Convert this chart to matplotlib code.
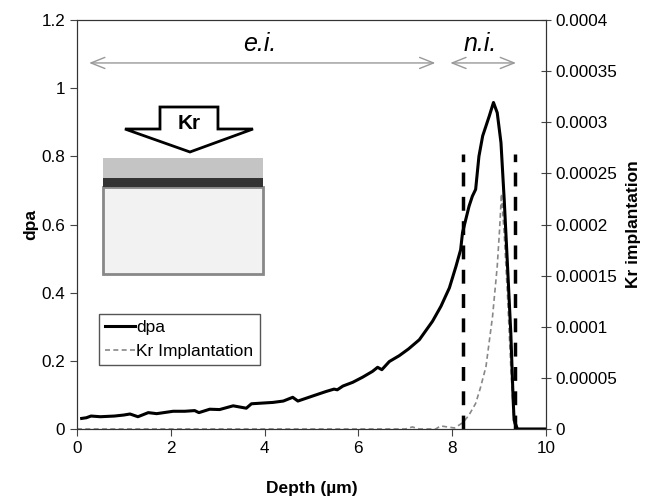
import matplotlib
matplotlib.use('Agg')
import matplotlib.pyplot as plt
from matplotlib.patches import Rectangle, Polygon

plt.rcParams['font.family'] = ['Liberation Sans', 'DejaVu Sans']

# dpa profile (left axis)
depth_dpa = [0.1, 0.2, 0.3, 0.5, 0.8, 1.0, 1.13, 1.3, 1.52, 1.7, 2.05, 2.3, 2.51, 2.6,
             2.83, 3.04, 3.33, 3.61, 3.72, 4.18, 4.4, 4.6, 4.71, 5.03, 5.31, 5.48, 5.55,
             5.67, 5.88, 6.09, 6.3, 6.41, 6.5, 6.66, 6.87, 7.07, 7.3, 7.58, 7.76, 7.94,
             8.08, 8.18, 8.22, 8.36, 8.43, 8.5, 8.57, 8.65, 8.79, 8.88, 8.96, 9.04, 9.11,
             9.18, 9.25, 9.3, 9.32, 9.39, 9.6, 10.0]
dpa = [0.031, 0.033, 0.038, 0.036, 0.038, 0.041, 0.044, 0.036, 0.048, 0.045, 0.052, 0.052,
       0.054, 0.048, 0.058, 0.057, 0.068, 0.061, 0.074, 0.078, 0.082, 0.093, 0.082, 0.097,
       0.11, 0.117, 0.115, 0.126, 0.137, 0.152, 0.169, 0.181, 0.174, 0.198, 0.215, 0.235,
       0.262, 0.316, 0.36, 0.414, 0.477, 0.526, 0.576, 0.654, 0.683, 0.703, 0.80, 0.86,
       0.918, 0.958, 0.928, 0.84, 0.67, 0.477, 0.28, 0.085, 0.026, 0.0, 0.0, 0.0]

# Kr implantation profile (right axis)
depth_kr = [0.0, 7.0, 7.15, 7.3, 7.65, 7.75, 7.9, 8.05, 8.22, 8.35, 8.5, 8.6, 8.72, 8.86,
            8.96, 9.01, 9.05, 9.11, 9.18, 9.25, 9.32, 9.4, 10.0]
kr = [0, 0, 0.000002, 0, 0, 0.000003, 0.000002, 0.000001, 0.000006, 0.000013, 0.000025,
      0.00004, 0.000061, 0.00011, 0.000159, 0.000195, 0.00023, 0.00019, 0.00013, 0.00006,
      0.000005, 0, 0]

nuclear_bounds = [8.23, 9.34]

fig = plt.figure(figsize=(6.49, 4.99), dpi=100)
ax = fig.add_axes([0.1186, 0.1403, 0.7227, 0.8196])
ax2 = ax.twinx()

l1, = ax.plot(depth_dpa, dpa, color='black', lw=2.2, label='dpa')
l2, = ax2.plot(depth_kr, kr, color='#888888', lw=1.2, ls=(0, (3, 2)), label='Kr Implantation')

for xb in nuclear_bounds:
    ax.plot([xb, xb], [0, 0.806], color='black', lw=2.5, ls=(0, (4, 3)))

ax.set_xlim(0, 10)
ax.set_ylim(0, 1.2)
ax2.set_ylim(0, 0.0004)
ax.set_xticks([0, 2, 4, 6, 8, 10])
ax.set_yticks([0, 0.2, 0.4, 0.6, 0.8, 1.0, 1.2])
ax.set_yticklabels(['0', '0.2', '0.4', '0.6', '0.8', '1', '1.2'])
ax2.set_yticks([0, 0.00005, 0.0001, 0.00015, 0.0002, 0.00025, 0.0003, 0.00035, 0.0004])
ax2.set_yticklabels(['0', '0.00005', '0.0001', '0.00015', '0.0002', '0.00025', '0.0003',
                     '0.00035', '0.0004'])

ax.tick_params(labelsize=12.3, direction='out', length=5, color='#444444')
ax2.tick_params(labelsize=12.3, direction='inout', length=7, color='#444444')
for a in (ax, ax2):
    for s in a.spines.values():
        s.set_color('#333333')

ax.set_xlabel('Depth (µm)', fontsize=12.5, fontweight='bold', labelpad=18)
ax.set_ylabel('dpa', fontsize=12.5, fontweight='bold', labelpad=2)
ax2.set_ylabel('Kr implantation', fontsize=12.5, fontweight='bold', labelpad=6)

# irradiation zones
arrow_style = '<->,head_length=1.0,head_width=0.4'
ax.annotate('', xy=(0.2, 1.074), xytext=(7.7, 1.074),
            arrowprops=dict(arrowstyle=arrow_style, color='#999999', lw=1))
ax.annotate('', xy=(7.9, 1.074), xytext=(9.42, 1.074),
            arrowprops=dict(arrowstyle=arrow_style, color='#999999', lw=1))
ax.text(3.9, 1.13, 'e.i.', fontsize=18, style='italic', ha='center', va='center')
ax.text(8.6, 1.13, 'n.i.', fontsize=18, style='italic', ha='center', va='center')

# sample schematic
tr = ax.transAxes
ax.add_patch(Rectangle((0.0554, 0.379), 0.3412, 0.2127, transform=tr,
                       facecolor='#f2f2f2', edgecolor='#888888', lw=2, zorder=3))
ax.add_patch(Rectangle((0.0554, 0.5917), 0.3412, 0.022, transform=tr,
                       facecolor='#333333', edgecolor='none', zorder=3))
ax.add_patch(Rectangle((0.0554, 0.6137), 0.3412, 0.0489, transform=tr,
                       facecolor='#c4c4c4', edgecolor='none', zorder=3))
ax.add_patch(Polygon([(0.177, 0.7873), (0.3006, 0.7873), (0.3006, 0.7335), (0.3753, 0.7335),
                      (0.2409, 0.6773), (0.1023, 0.7335), (0.177, 0.7335)],
                     closed=True, transform=tr, facecolor='white', edgecolor='black',
                     lw=2, zorder=3))
ax.text(0.2388, 0.748, 'Kr', transform=tr, fontsize=15, fontweight='bold',
        ha='center', va='center', zorder=4)

leg = ax.legend([l1, l2], ['dpa', 'Kr Implantation'], loc='lower left',
                bbox_to_anchor=(0.047, 0.156), fontsize=12.5, fancybox=False,
                framealpha=1, edgecolor='#555555', handlelength=1.7, handletextpad=0.1,
                borderpad=0.35, labelspacing=0.5, borderaxespad=0)
leg.get_frame().set_linewidth(1)
ax.set_zorder(ax2.get_zorder() + 1)
ax.patch.set_visible(False)

fig.savefig('out.png', dpi=100)
